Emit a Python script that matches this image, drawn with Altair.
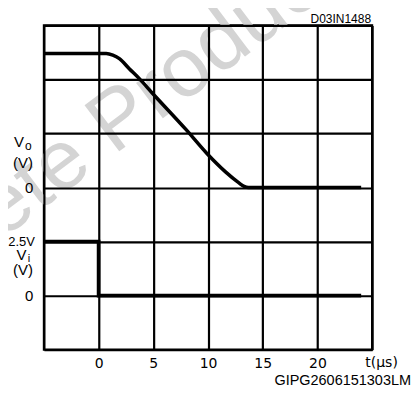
import altair as alt
import pandas as pd

# Output voltage trace (grid units: 0..6 rows, Vo = 0 at row 3)
t_out = [-5, 0.7, 1.3, 1.9, 2.8, 3.7, 4.9, 8.0, 9.9, 11.6, 12.8, 13.3, 13.7, 24]
v_out = [5.48, 5.48, 5.45, 5.385, 5.2, 5.02, 4.75, 4.07, 3.63, 3.29, 3.09, 3.02, 3.0, 3.0]
# Input voltage trace (Vi = 0 at row 1, 2.5V at row 2)
t_in = [-5, 0, 0, 24]
v_in = [2, 2, 1, 1]

x_grid = [-5, 0, 5, 10, 15, 20, 25]
y_grid = [0, 1, 2, 3, 4, 5, 6]

df_out = pd.DataFrame({"t": t_out, "v": v_out, "i": list(range(len(t_out)))})
df_in = pd.DataFrame({"t": t_in, "v": v_in, "i": list(range(len(t_in)))})

FONT = "DejaVu Sans"
SANS = "Liberation Sans"

x_enc = alt.X(
    "t:Q",
    scale=alt.Scale(domain=[-5, 25], nice=False, zero=False),
    axis=alt.Axis(
        values=x_grid,
        labelExpr="(datum.value == -5 || datum.value == 25) ? '' : datum.label",
        title=None, grid=True, domain=False, ticks=False, tickSize=0,
        labelPadding=7, labelFont=FONT, labelFontSize=14, labelColor="black",
        gridColor="black", gridWidth=2.2, gridOpacity=1, zindex=1,
    ),
)
y_enc = alt.Y(
    "v:Q",
    scale=alt.Scale(domain=[0, 6], nice=False, zero=False),
    axis=alt.Axis(
        values=y_grid,
        labelExpr="(datum.value == 1 || datum.value == 3) ? '0' : ''",
        title=None, grid=True, domain=False, ticks=False, tickSize=0,
        labelPadding=11, labelFont=SANS, labelFontSize=15, labelColor="black",
        gridColor="black", gridWidth=2.2, gridOpacity=1, zindex=1,
    ),
)

base = alt.Chart(pd.DataFrame({"a": [0]}))

watermark = base.mark_text(
    text="Obsolete Product(s)", font=SANS, fontSize=84,
    color="#d4d4d4", angle=323, align="center", baseline="middle",
).encode(x=alt.value(66), y=alt.value(102))

out_line = alt.Chart(df_out).mark_line(
    color="black", strokeWidth=3.5, interpolate="monotone"
).encode(x=x_enc, y=y_enc, order="i:Q")

in_line = alt.Chart(df_in).mark_line(
    color="black", strokeWidth=3.7
).encode(x=x_enc, y=y_enc, order="i:Q")


def label(txt, x, y, size=15, align="center", font=SANS):
    return base.mark_text(
        text=txt, font=font, fontSize=size, color="black",
        align=align, baseline="middle",
    ).encode(x=alt.value(x), y=alt.value(y))


texts = [
    label("V", -25, 117),
    label("o", -15.5, 121, size=12),
    label("(V)", -11, 138, align="right"),
    label("2.5V", -9, 217, size=13, align="right"),
    label("V", -22.5, 230),
    label("i", -15, 234, size=11),
    label("(V)", -11, 245, align="right"),
    label("t(µs)", 338.5, 338, size=14, font=FONT),
    label("D03IN1488", 328, -6.5, size=12, align="right"),
    label("GIPG2606151303LM", 368, 356.5, size=14.5, align="right"),
]

chart = alt.layer(watermark, out_line, in_line, *texts).properties(
    width=329, height=325,
    autosize=alt.AutoSizeParams(type="none"),
    padding={"left": 36, "top": 17, "right": 40, "bottom": 38},
    background="white",
).configure_view(stroke="black", strokeWidth=2.2)

chart.save("out.html", embed_options={"renderer": "svg", "actions": False})
